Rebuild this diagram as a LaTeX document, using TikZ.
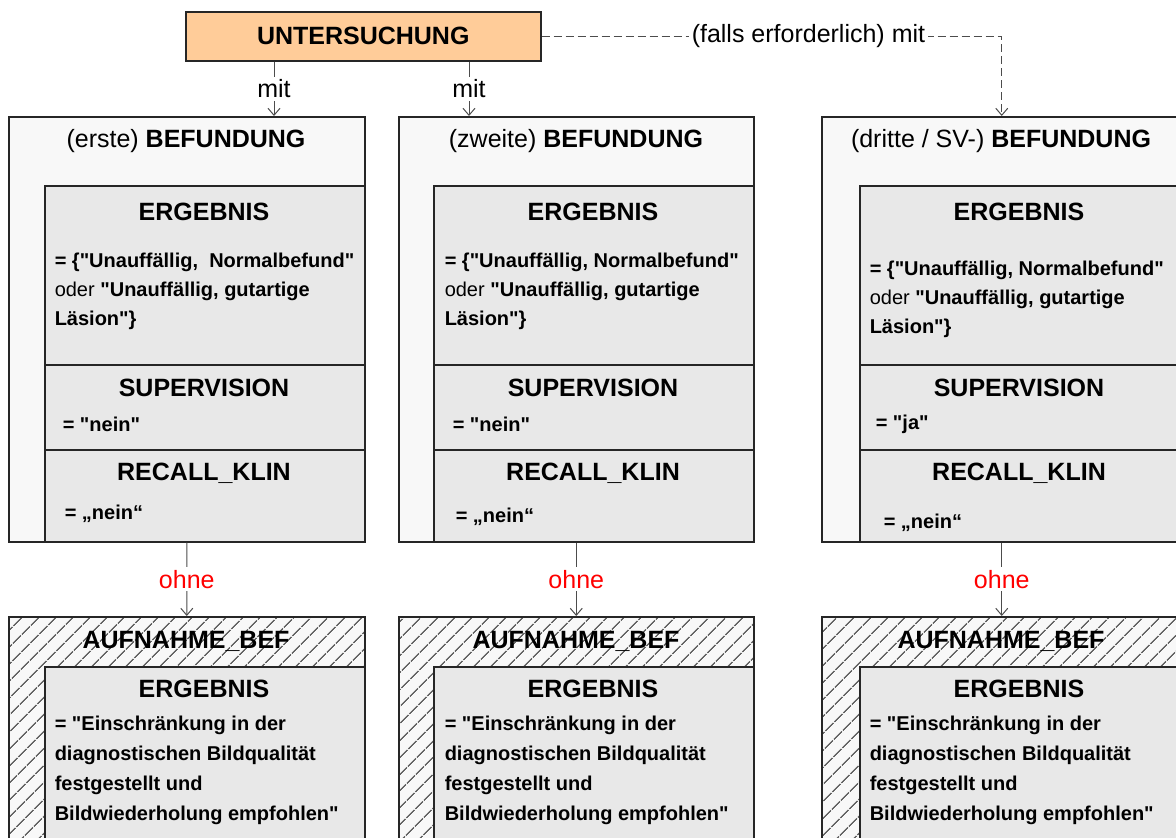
\documentclass[tikz,border=0pt]{standalone}
\usepackage{fontspec}
\setmainfont{Liberation Sans}[Ligatures=TeXOff]
\usepackage{tikz}
\usetikzlibrary{arrows.meta, patterns.meta}
\definecolor{orangefill}{RGB}{255,204,153}
\definecolor{boxgray}{RGB}{232,232,232}
\definecolor{outergray}{RGB}{248,248,248}
\tikzset{
  untbox/.style={draw=black!85, fill=orangefill, anchor=north west, inner sep=0pt, font=\fontsize{12.5}{15}\selectfont\bfseries},
  outer/.style={draw=black!85, fill=outergray, anchor=north west, inner sep=0pt},
  inner/.style={draw=black!85, fill=boxgray, anchor=north west, inner sep=0pt},
  hatched/.style={draw=black!85, anchor=north west, inner sep=0pt, preaction={fill=outergray},
    pattern={Lines[angle=45, distance=6.4pt, line width=0.8pt]}, pattern color=black!60},
  title/.style={font=\fontsize{12.5}{15}\selectfont},
  head/.style={font=\fontsize{12.5}{15}\selectfont\bfseries},
  val/.style={font=\fontsize{10}{14.5}\selectfont\bfseries, anchor=west, align=left, inner sep=0pt},
  conn/.style={draw=black!70, line width=0.5pt, -{Straight Barb[length=3.5pt, width=6pt]}},
  lbl/.style={fill=white, inner sep=1.5pt, font=\fontsize{12.5}{15}\selectfont}
}
\begin{document}
\begin{tikzpicture}[x=0.5pt, y=-0.5pt, line width=0.75pt]
	\clip (0,0) rectangle (1176,837);
	% top
	\node[untbox, minimum width=177.5pt, minimum height=24.5pt] (unt) at (185,11) {UNTERSUCHUNG};
	% first column
	\node[outer, minimum width=178pt, minimum height=212.5pt] (bef1) at (8,116) {};
	\node[inner, minimum width=160pt, minimum height=89.5pt] (erg1) at (44,185) {};
	\node[inner, minimum width=160pt, minimum height=42.5pt] (sup1) at (44,364) {};
	\node[inner, minimum width=160pt, minimum height=46pt] (rec1) at (44,449) {};
	\node[title] (bef1t) at (186,141) {(erste) \textbf{BEFUNDUNG}};
	\node[head] (erg1t) at (204,212) {ERGEBNIS};
	\node[val] (erg1v) at (54,291) {= \{"Unauffällig,\ \ Normalbefund"\\{\mdseries oder} "Unauffällig, gutartige\\Läsion"\}};
	\node[head] (sup1t) at (204,388) {SUPERVISION};
	\node[val] (sup1v) at (62,424) {= "nein"};
	\node[head] (rec1t) at (204,473) {RECALL\_KLIN};
	\node[val] (rec1v) at (64,514) {= „nein“};
	% second column
	\node[outer, minimum width=177.5pt, minimum height=212.5pt] (bef2) at (398,116) {};
	\node[inner, minimum width=160pt, minimum height=89.5pt] (erg2) at (433,185) {};
	\node[inner, minimum width=160pt, minimum height=42.5pt] (sup2) at (433,364) {};
	\node[inner, minimum width=160pt, minimum height=46pt] (rec2) at (433,449) {};
	\node[title] (bef2t) at (576,141) {(zweite) \textbf{BEFUNDUNG}};
	\node[head] (erg2t) at (593,212) {ERGEBNIS};
	\node[val] (erg2v) at (444,291) {= \{"Unauffällig, Normalbefund"\\{\mdseries oder} "Unauffällig, gutartige\\Läsion"\}};
	\node[head] (sup2t) at (593,388) {SUPERVISION};
	\node[val] (sup2v) at (452,424) {= "nein"};
	\node[head] (rec2t) at (593,473) {RECALL\_KLIN};
	\node[val] (rec2v) at (455,517) {= „nein“};
	% third column
	\node[outer, minimum width=180pt, minimum height=212.5pt] (bef3) at (821,116) {};
	\node[inner, minimum width=161pt, minimum height=89.5pt] (erg3) at (859,185) {};
	\node[inner, minimum width=161pt, minimum height=42.5pt] (sup3) at (859,364) {};
	\node[inner, minimum width=161pt, minimum height=46pt] (rec3) at (859,449) {};
	\node[title] (bef3t) at (1001,141) {(dritte / SV-) \textbf{BEFUNDUNG}};
	\node[head] (erg3t) at (1019,212) {ERGEBNIS};
	\node[val] (erg3v) at (869,299) {= \{"Unauffällig, Normalbefund"\\{\mdseries oder} "Unauffällig, gutartige\\Läsion"\}};
	\node[head] (sup3t) at (1019,388) {SUPERVISION};
	\node[val] (sup3v) at (875,424) {= "ja"};
	\node[head] (rec3t) at (1019,473) {RECALL\_KLIN};
	\node[val] (rec3v) at (883,523) {= „nein“};
	% hatched boxes
	\node[hatched, minimum width=178pt, minimum height=130pt] (auf1) at (8,616) {};
	\node[hatched, minimum width=177.5pt, minimum height=130pt] (auf2) at (398,616) {};
	\node[hatched, minimum width=180pt, minimum height=130pt] (auf3) at (821,616) {};
	\node[inner, minimum width=160pt, minimum height=105pt] (aerg1) at (44,666) {};
	\node[inner, minimum width=160pt, minimum height=105pt] (aerg2) at (433,666) {};
	\node[inner, minimum width=161pt, minimum height=105pt] (aerg3) at (859,666) {};
	\node[head] (auf1t) at (186,641) {AUFNAHME\_BEF};
	\node[head] (auf2t) at (576,641) {AUFNAHME\_BEF};
	\node[head] (auf3t) at (1001,641) {AUFNAHME\_BEF};
	\node[head] (aerg1t) at (204,689) {ERGEBNIS};
	\node[head] (aerg2t) at (593,689) {ERGEBNIS};
	\node[head] (aerg3t) at (1019,689) {ERGEBNIS};
	\node[val, font=\fontsize{10}{15}\selectfont\bfseries] (aerg1v) at (54,770) {= "Einschränkung in der\\diagnostischen Bildqualität\\festgestellt und\\Bildwiederholung empfohlen"};
	\node[val, font=\fontsize{10}{15}\selectfont\bfseries] (aerg2v) at (444,770) {= "Einschränkung in der\\diagnostischen Bildqualität\\festgestellt und\\Bildwiederholung empfohlen"};
	\node[val, font=\fontsize{10}{15}\selectfont\bfseries] (aerg3v) at (869,770) {= "Einschränkung in der\\diagnostischen Bildqualität\\festgestellt und\\Bildwiederholung empfohlen"};
	% connectors
	\coordinate (m1) at (274,0);
	\coordinate (m2) at (469,0);
	\draw[conn] (unt.south -| m1) -- node[lbl] {mit} (bef1.north -| m1);
	\draw[conn] (unt.south -| m2) -- node[lbl] {mit} (bef2.north -| m2);
	\draw[conn, dash pattern=on 4pt off 2pt] (unt.east) -- node[lbl, pos=0.58] {(falls erforderlich) mit} (unt.east -| bef3.north) -- (bef3.north);
	\draw[conn] (bef1.south) -- node[lbl, text=red] {ohne} (auf1.north);
	\draw[conn] (bef2.south) -- node[lbl, text=red] {ohne} (auf2.north);
	\draw[conn] (bef3.south) -- node[lbl, text=red] {ohne} (auf3.north);
\end{tikzpicture}
\end{document}
